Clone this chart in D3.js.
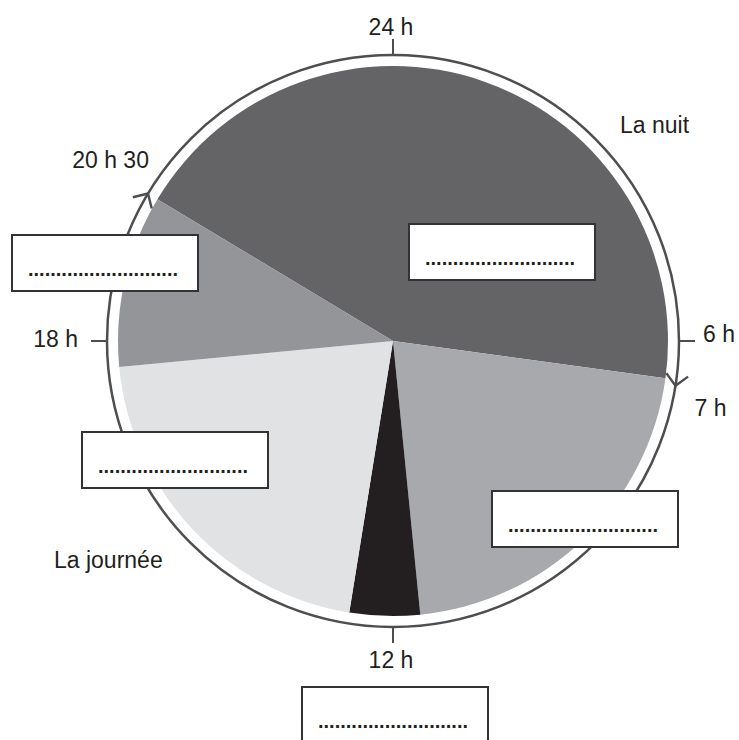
<!DOCTYPE html>
<html>
<head>
<meta charset="utf-8">
<script src="https://cdn.jsdelivr.net/npm/d3@7"></script>
<style>
  html, body { margin: 0; padding: 0; background: #fff; }
  svg { display: block; }
  text { font-family: "Liberation Sans", Arial, sans-serif; }
</style>
</head>
<body>
<svg id="chart" width="739" height="740"></svg>
<script>
// ---- data (hours on a 24 h clock) ----
const categories = ["La nuit", "matin", "déjeuner", "après-midi", "soirée"];
const startHours = [20.07, 6.52, 11.62, 12.61, 17.64];
const endHours   = [30.52, 11.62, 12.61, 17.64, 20.07];
const sliceColors = ["#646466", "#a8a9ac", "#231f20", "#e1e2e4", "#939598"];

const tickHours  = [0, 6, 12, 18];
const tickLabels = ["24 h", "6 h", "12 h", "18 h"];

const arrowHours  = [20.07, 6.6];
const arrowLabels = ["20 h 30", "7 h"];

const sectionLabels = ["La nuit", "La journée"];
const blankText = "...........................";

// ---- layout ----
const svg = d3.select("#chart");
const cx = 393, cy = 341;
const pieR = 275, ringR = 286, tickLen = 16;
const ink = "#4d4e50";

const angle = d3.scaleLinear().domain([0, 24]).range([0, 2 * Math.PI]);
const pt = (h, r) => [cx + r * Math.sin(angle(h)), cy - r * Math.cos(angle(h))];

const g = svg.append("g");

// pie slices
const arc = d3.arc().innerRadius(0).outerRadius(pieR);
g.selectAll("path.slice")
  .data(categories.map((c, i) => ({ c, s: startHours[i], e: endHours[i], col: sliceColors[i] })))
  .join("path")
  .attr("class", "slice")
  .attr("transform", `translate(${cx},${cy})`)
  .attr("d", d => arc({ startAngle: angle(d.s), endAngle: angle(d.e) }))
  .attr("fill", d => d.col);

// ring
g.append("circle").attr("cx", cx).attr("cy", cy).attr("r", ringR)
  .attr("fill", "none").attr("stroke", ink).attr("stroke-width", 2.5);

// ticks
tickHours.forEach((h, i) => {
  const [x1, y1] = pt(h, ringR);
  const [x2, y2] = pt(h, ringR + tickLen);
  g.append("line").attr("x1", x1).attr("y1", y1).attr("x2", x2).attr("y2", y2)
    .attr("stroke", ink).attr("stroke-width", 2);
});
const tickLabelPos = [
  { dx: -2, dy: -4, anchor: "middle" },
  { dx: 8, dy: 1, anchor: "start" },
  { dx: -2, dy: 25, anchor: "middle" },
  { dx: -13, dy: 6, anchor: "end" }
];
tickHours.forEach((h, i) => {
  const [x, y] = pt(h, ringR + tickLen);
  g.append("text").attr("x", x + tickLabelPos[i].dx).attr("y", y + tickLabelPos[i].dy)
    .attr("text-anchor", tickLabelPos[i].anchor)
    .attr("font-size", 23).attr("fill", "#231f20").text(tickLabels[i]);
});

// arrows (chevrons pointing clockwise)
arrowHours.forEach(h => {
  const [x, y] = pt(h, ringR);
  const a = angle(h);
  const dir = [Math.cos(a), Math.sin(a)];
  const nor = [Math.sin(a), -Math.cos(a)];
  const b = 11, s = 11;
  const p1 = [x - dir[0] * b + nor[0] * s, y - dir[1] * b + nor[1] * s];
  const p2 = [x - dir[0] * b - nor[0] * s, y - dir[1] * b - nor[1] * s];
  g.append("path")
    .attr("d", `M${p1[0]},${p1[1]}L${x},${y}L${p2[0]},${p2[1]}`)
    .attr("fill", "none").attr("stroke", ink).attr("stroke-width", 2.4);
});
const arrowLabelPos = [
  { dx: 1, dy: -25, anchor: "end" },
  { dx: 19, dy: 30, anchor: "start" }
];
arrowHours.forEach((h, i) => {
  const [x, y] = pt(h, ringR);
  g.append("text").attr("x", x + arrowLabelPos[i].dx).attr("y", y + arrowLabelPos[i].dy)
    .attr("text-anchor", arrowLabelPos[i].anchor)
    .attr("font-size", 23).attr("fill", "#231f20").text(arrowLabels[i]);
});

// section labels
const sectionPos = [[620, 133], [54, 568]];
sectionLabels.forEach((t, i) => {
  g.append("text").attr("x", sectionPos[i][0]).attr("y", sectionPos[i][1])
    .attr("font-size", 23).attr("fill", "#231f20").text(t);
});

// answer boxes
const boxes = [[409, 224], [492, 491], [302, 687], [82, 432], [12, 235]];
const boxW = 186, boxH = 56;
boxes.forEach(([x, y]) => {
  g.append("rect").attr("x", x).attr("y", y).attr("width", boxW).attr("height", boxH)
    .attr("fill", "#fff").attr("stroke", "#333335").attr("stroke-width", 2);
  g.append("text").attr("x", x + 16).attr("y", y + 41)
    .attr("font-size", 20).attr("font-weight", "bold").attr("fill", "#231f20")
    .text(blankText);
});
</script>
</body>
</html>
